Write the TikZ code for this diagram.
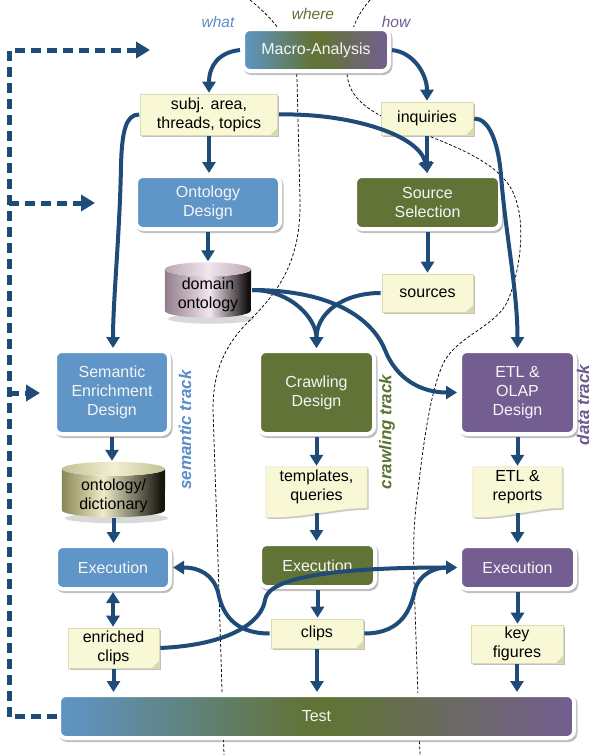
\documentclass[tikz,border=0pt]{standalone}
\usepackage{fontspec}
\setmainfont{Liberation Sans}
\usetikzlibrary{arrows.meta,shadows,backgrounds,calc}

\definecolor{trkblue}{HTML}{5F95C7}
\definecolor{trkgreen}{HTML}{617337}
\definecolor{trkpurple}{HTML}{745E91}
\definecolor{flow}{HTML}{1F4B78}
\definecolor{notefill}{HTML}{F8F8D6}
\definecolor{noteline}{HTML}{DCDCB4}
\definecolor{notefold}{HTML}{D9D8A8}
\definecolor{lblblue}{HTML}{5A8DC8}
\definecolor{lblgreen}{HTML}{5D7232}
\definecolor{lblpurple}{HTML}{6F5A8F}
\definecolor{domA}{HTML}{927C8C}
\definecolor{domB}{HTML}{F3E6EE}
\definecolor{domC}{HTML}{120E11}
\definecolor{domTopA}{HTML}{B9A7B3}
\definecolor{domTopB}{HTML}{F1E6EC}
\definecolor{dicA}{HTML}{8A8656}
\definecolor{dicB}{HTML}{EEECC8}
\definecolor{dicC}{HTML}{16160E}
\definecolor{dicTopA}{HTML}{C3C194}
\definecolor{dicTopB}{HTML}{F0EFD2}

\pgfdeclarehorizontalshading{tracks}{100bp}{color(0bp)=(trkblue); color(25bp)=(trkblue); color(49bp)=(trkgreen); color(52bp)=(trkgreen); color(75bp)=(trkpurple); color(100bp)=(trkpurple)}
\pgfdeclarehorizontalshading{domshade}{100bp}{color(0bp)=(domA); color(25bp)=(domA); color(51bp)=(domB); color(73bp)=(domC); color(100bp)=(domC)}
\pgfdeclarehorizontalshading{dicshade}{100bp}{color(0bp)=(dicA); color(25bp)=(dicA); color(45bp)=(dicB); color(73bp)=(dicC); color(100bp)=(dicC)}

\newcommand\dgfont{\fontsize{16}{19}\selectfont}
\newcommand\trackfont{\fontsize{17}{20}\selectfont\bfseries\itshape}
\newcommand\tagfont{\fontsize{15.5}{18}\selectfont\itshape}

% cylinder drawn behind a named node: #1 node, #2 half width, #3 body shading, #4/#5 top face colours
\newcommand\drawcyl[5]{%
  \fill[black,opacity=.15] ([xshift=3pt,yshift=-1pt]#1.south) ellipse[x radius=#2pt,y radius=5pt];
  \shade[shading=#3] ([yshift=-7pt]#1.north west) -- ([yshift=7pt]#1.south west)
    arc[start angle=180,end angle=360,x radius=#2pt,y radius=7pt]
    -- ([yshift=-7pt]#1.north east)
    arc[start angle=0,end angle=-180,x radius=#2pt,y radius=7pt] -- cycle;
  \shade[left color=#4,right color=#4,middle color=#5] ([yshift=-7pt]#1.north) ellipse[x radius=#2pt,y radius=7pt];
}
% note with a wavy lower edge, drawn behind a named node
\newcommand\wavepath[1]{(#1.north west) -- (#1.north east) -- ([yshift=-1pt]#1.south east)
  .. controls ($(#1.south)+(18pt,-1pt)$) and ($(#1.south)+(-14pt,-12pt)$) .. ([yshift=-10pt]#1.south west) -- cycle}
\newcommand\drawwave[1]{%
  \begin{scope}[transform canvas={shift={(1.5pt,-1.5pt)}}]
    \fill[black,opacity=.22] \wavepath{#1};
  \end{scope}
  \filldraw[fill=notefill,draw=noteline,line width=.6pt] \wavepath{#1};
}

\begin{document}
\begin{tikzpicture}[x=1pt,y=1pt,
  box/.style={rectangle, rounded corners=7pt, draw=white, line width=4pt, text=white!96!black,
    align=center, font=\dgfont, inner sep=0pt,
    drop shadow={shadow xshift=1.5pt, shadow yshift=-2pt, opacity=.3, fill=black!80, draw=black!80}},
  bluebox/.style={box, fill=trkblue},
  greenbox/.style={box, fill=trkgreen},
  purplebox/.style={box, fill=trkpurple},
  gradbox/.style={box, shade, shading=tracks},
  note/.style={rectangle, fill=notefill, draw=noteline, line width=.6pt, text=black, align=center,
    font=\dgfont, inner sep=0pt,
    drop shadow={shadow xshift=1.5pt, shadow yshift=-1.5pt, opacity=.25, fill=black},
    path picture={\fill[notefold] ([xshift=-7pt]path picture bounding box.south east)
      -- ([yshift=7pt]path picture bounding box.south east)
      -- (path picture bounding box.south east) -- cycle;}},
  docnote/.style={rectangle, text=black, align=center, font=\dgfont, inner sep=0pt},
  cylnode/.style={rectangle, inner sep=0pt},
  cyltext/.style={text=black, align=center, font=\dgfont, inner sep=0pt},
  flowline/.style={draw=flow, line width=4pt, shorten <=1pt, shorten >=1pt,
    -{Triangle[length=11pt,width=13pt]}},
  bothways/.style={flowline, {Triangle[length=11pt,width=13pt]}-{Triangle[length=11pt,width=13pt]}},
  feedback/.style={draw=flow, line width=5pt, dash pattern=on 10pt off 6pt, line join=miter,
    -{Triangle[length=14pt,width=16pt]}},
  boundary/.style={draw=black, line width=.75pt, dash pattern=on 3pt off 2pt},
  tag/.style={font=\tagfont, inner sep=0pt},
  track/.style={font=\trackfont, rotate=90, inner sep=0pt},
]
\useasboundingbox (0,0) rectangle (593,-755);

% borders between the what / where / how regions
\draw[boundary] (250,0) .. controls (275,-20) and (296,-45) .. (297,-80) -- (300,-200)
  .. controls (301,-260) and (280,-290) .. (250,-320)
  .. controls (225,-345) and (213,-370) .. (213,-410) -- (218,-560) -- (224,-755);
\draw[boundary] (370,0) .. controls (352,-20) and (346,-45) .. (347,-73)
  .. controls (348,-95) and (365,-108) .. (385,-118)
  .. controls (420,-135) and (480,-150) .. (505,-180)
  .. controls (530,-208) and (521,-270) .. (508,-300)
  .. controls (498,-325) and (460,-335) .. (445,-360)
  .. controls (432,-385) and (425,-430) .. (418,-490)
  .. controls (414,-520) and (413,-540) .. (414,-580) -- (420,-755);

% region tags
\node[tag, text=lblblue] (what) at (218,-22) {what};
\node[tag, text=lblgreen] (where) at (313,-14) {where};
\node[tag, text=lblpurple] (how) at (396,-22) {how};

% nodes
\node[gradbox, minimum width=146pt, minimum height=42pt] (macro) at (316,-50) {Macro-Analysis};
\node[note, minimum width=137pt, minimum height=41pt] (subj) at (209,-114.5) {subj. area,\\threads, topics};
\node[note, minimum width=92pt, minimum height=33pt] (inq) at (427,-118.5) {inquiries};
\node[bluebox, minimum width=144pt, minimum height=53pt] (ont) at (208,-202.5) {Ontology\\Design};
\node[greenbox, minimum width=145pt, minimum height=53pt] (src) at (427.5,-202.5) {Source\\Selection};
\node[cylnode, minimum width=86pt, minimum height=55pt] (dom) at (208,-290) {};
\node[note, minimum width=91pt, minimum height=38pt] (srcs) at (427.5,-293) {sources};
\node[bluebox, minimum width=114pt, minimum height=83pt] (sem) at (112,-392.5) {Semantic\\Enrichment\\Design};
\node[greenbox, minimum width=115pt, minimum height=83pt] (crawl) at (316.5,-392.5) {Crawling\\Design};
\node[purplebox, minimum width=115pt, minimum height=83pt] (etl) at (517.5,-392.5) {ETL \&\\OLAP\\Design};
\node[cylnode, minimum width=103pt, minimum height=55pt] (dict) at (113.5,-489.5) {};
\node[docnote, minimum width=101pt, minimum height=40pt] (tmpl) at (316.5,-487) {templates,\\queries};
\node[docnote, minimum width=89pt, minimum height=40pt] (etlr) at (517.5,-487) {ETL \&\\reports};
\node[bluebox, minimum width=114pt, minimum height=43pt] (execB) at (113,-567.5) {Execution};
\node[greenbox, minimum width=115pt, minimum height=43pt] (execG) at (317.5,-565.5) {Execution};
\node[purplebox, minimum width=115pt, minimum height=43pt] (execP) at (517.5,-567.5) {Execution};
\node[note, minimum width=91pt, minimum height=40pt] (enr) at (113.5,-648) {enriched\\clips};
\node[note, minimum width=92pt, minimum height=29pt] (clips) at (317,-633.5) {clips};
\node[note, minimum width=92pt, minimum height=38pt] (key) at (517,-644) {key\\figures};
\node[gradbox, minimum width=515pt, minimum height=43pt] (test) at (316.5,-716.5) {Test};

% cylinders and wavy notes sit behind their text
\begin{pgfonlayer}{background}
  \drawcyl{dom}{43}{domshade}{domTopA}{domTopB}
  \drawcyl{dict}{51.5}{dicshade}{dicTopA}{dicTopB}
  \drawwave{tmpl}
  \drawwave{etlr}
\end{pgfonlayer}
\node[cyltext] (domtext) at (208,-295) {domain\\ontology};
\node[cyltext] (dicttext) at (113.5,-496) {ontology/\\dictionary};

% track labels
\node[track, text=lblblue] (semtrack) at (185,-430) {semantic track};
\node[track, text=lblgreen] (crawltrack) at (387,-432) {crawling track};
\node[track, text=lblpurple] (datatrack) at (583,-405) {data track};

% top of the flow
\draw[flowline] (macro.west) .. controls +(-22,-2) and +(0,28) .. (subj.north);
\draw[flowline] (macro.east) .. controls +(22,-2) and +(0,28) .. (inq.north);
\draw[flowline] (subj.south) -- (subj.south |- ont.north);
\draw[flowline] (subj.west) .. controls +(-14,0) and (122,-130) .. (121,-165)
  .. controls (120,-230) and (113,-300) .. (sem.north -| 113,0);
\draw[flowline] (subj.east) .. controls +(72,1.5) and (420,-135) .. (src.north);
\draw[flowline] (inq.south) -- (inq.south |- src.north);
\draw[flowline] (inq.east) .. controls +(15,0) and (498,-140) .. (501,-175)
  .. controls (505,-230) and (517.5,-290) .. (etl.north);

% semantic and source branches
\draw[flowline] (ont.south) -- (dom.north);
\draw[flowline] (src.south) -- (srcs.north);
\draw[flowline] (dom.east) .. controls +(40,0) and +(0,30) .. (crawl.north);
\draw[flowline] (srcs.west) .. controls +(-40,0) and +(0,35) .. (crawl.north);
\draw[flowline] (dom.east) .. controls +(80,0) and (372,-318) .. (385,-350)
  .. controls (396,-378) and (420,-392.5) .. (etl.west);

% the three tracks
\draw[flowline] (sem.south) -- (sem.south |- dict.north);
\draw[flowline] (dict.south) -- (dict.south |- execB.north);
\draw[flowline] (crawl.south) -- (crawl.south |- tmpl.north);
\draw[flowline] ([yshift=-5pt]tmpl.south) -- (tmpl.south |- execG.north);
\draw[flowline] (etl.south) -- (etl.south |- etlr.north);
\draw[flowline] ([yshift=-5pt]etlr.south) -- (etlr.south |- execP.north);
\draw[bothways] (execB.south) -- (execB.south |- enr.north);
\draw[flowline] (execG.south) -- (execG.south |- clips.north);
\draw[flowline] (execP.south) -- (execP.south |- key.north);
\draw[flowline] (enr.south) -- (enr.south |- test.north);
\draw[flowline] (clips.south) -- (clips.south |- test.north);
\draw[flowline] (key.south) -- (key.south |- test.north);

% clips shared between tracks
\draw[flowline] (clips.west) .. controls +(-38,0) and (222,-612) .. (218,-592)
  .. controls (213,-575) and (200,-567.5) .. (execB.east);
\draw[flowline] (clips.east) .. controls +(40,0) and (411,-607) .. (415,-590)
  .. controls (419,-574) and (435,-567.5) .. (execP.west);
\draw[flowline] (enr.east) .. controls +(70,3) and (262,-622) .. (265,-600)
  .. controls (268,-578) and (330,-567.5) .. (execP.west);

% feedback loop from the test
\coordinate (rail) at (9,0);
\coordinate (fbMacro) at (150,-50);
\coordinate (fbOnt) at (95,-203);
\coordinate (fbSem) at (40,-393);
\draw[feedback] (test.west) -- (test.west -| rail) |- (fbMacro);
\draw[feedback] (fbOnt -| rail) -- (fbOnt);
\draw[feedback] (fbSem -| rail) -- (fbSem);
\end{tikzpicture}
\end{document}
